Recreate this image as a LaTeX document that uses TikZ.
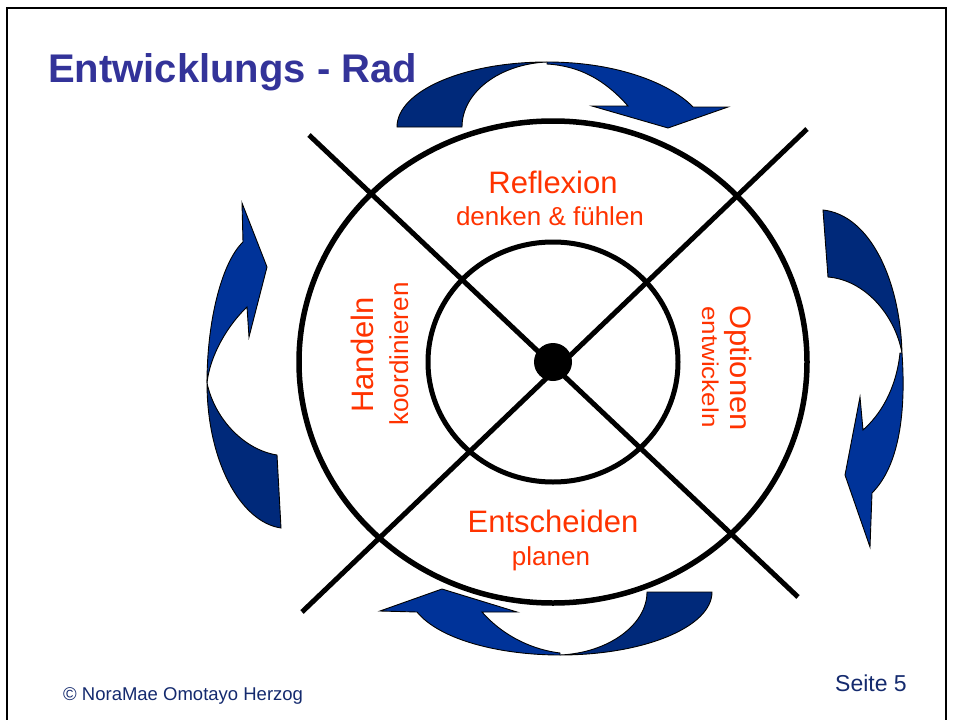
\documentclass[tikz,border=0pt]{standalone}
\usepackage{fontspec}
\setmainfont{Liberation Sans}
\usepackage{graphicx}
\definecolor{titleblue}{RGB}{51,51,153}
\definecolor{wheelred}{RGB}{255,51,0}
\definecolor{footnavy}{RGB}{20,42,110}
\definecolor{banddark}{RGB}{0,41,122}
\definecolor{bandlight}{RGB}{0,51,153}
\begin{document}
\begin{tikzpicture}[x=1pt,y=-1pt,
  darkband/.style={fill=banddark,draw=black,line width=0.9pt},
  lightband/.style={fill=bandlight,draw=black,line width=0.9pt},
  ring/.style={draw=black,line width=5.5pt},
  spoke/.style={draw=black,line width=5pt},
  mainlbl/.style={text=wheelred,font=\fontsize{31}{36}\selectfont,inner sep=0pt},
  sublbl/.style={text=wheelred,font=\fontsize{26}{30}\selectfont,inner sep=0pt},
  footlbl/.style={text=footnavy,inner sep=0pt}
  ]
\useasboundingbox (0,0) rectangle (954,720);
\clip (0,0) rectangle (954,720);
\fill[white] (0,0) rectangle (954,720);
\draw[line width=2pt] (7,8) rectangle (946,760);

% title
\node[anchor=base west,inner sep=0pt,text=titleblue,font=\bfseries\fontsize{40}{47}\selectfont] (title) at (48,82) {Entwicklungs - Rad};

% top arrow
\path[darkband] (397,127) .. controls (397,91) and (464,62) .. (547,62)
  .. controls (500,64) and (462,92) .. (462,127) -- cycle;
\path[lightband] (547,62) .. controls (620,62) and (672,85) .. (693,107)
  -- (728,107) -- (668,128) -- (592,106) -- (628,106)
  .. controls (605,80) and (580,66) .. (547,64) -- cycle;

% bottom arrow
\path[darkband] (712,592) .. controls (712,627) and (644,655) .. (560,655)
  .. controls (608,653) and (647,625) .. (647,592) -- cycle;
\path[lightband] (560,655) .. controls (500,655) and (440,640) .. (417,612)
  -- (380,611) -- (442,589) -- (517,612) -- (482,612)
  .. controls (505,638) and (535,650) .. (560,653) -- cycle;

% left arrow
\path[darkband] (281,528) .. controls (240,522) and (207,460) .. (207,383)
  .. controls (215,420) and (245,450) .. (277,455) -- cycle;
\path[lightband] (207,383) .. controls (207,320) and (222,262) .. (243,242)
  -- (242,203) -- (267,267) -- (249,337) -- (247,307)
  .. controls (228,325) and (210,355) .. (207,383) -- cycle;

% right arrow
\path[darkband] (823,210) .. controls (870,215) and (900,280) .. (902,353)
  .. controls (895,315) and (865,280) .. (828,277) -- cycle;
\path[lightband] (902,353) .. controls (906,410) and (900,465) .. (872,493)
  -- (870,547) -- (845,475) -- (860,397) -- (863,430)
  .. controls (880,415) and (896,390) .. (900,353) -- cycle;

% wheel
\coordinate (c) at (553,362);
\draw[ring] (c) ellipse [x radius=254, y radius=241];
\draw[ring,line width=5pt] (c) ellipse [x radius=125, y radius=120];
\coordinate (s1a) at (309,135);
\coordinate (s1b) at (798,597);
\coordinate (s2a) at (807,129);
\coordinate (s2b) at (302,612);
\draw[spoke] (s1a) -- (s1b);
\draw[spoke] (s2a) -- (s2b);
\node[circle,fill=black,minimum size=38pt,inner sep=0pt] (hub) at (c) {};

% labels
\node[mainlbl,anchor=base] (refl) at (553,193) {Reflexion};
\node[sublbl,anchor=base] (reflsub) at (550,225) {denken \& fühlen};
\node[mainlbl,anchor=base] (ent) at (553,532) {Entscheiden};
\node[sublbl,anchor=base] (entsub) at (551,565) {planen};
\node[mainlbl,anchor=base,rotate=90] (hand) at (373,355) {Handeln};
\node[sublbl,anchor=base,rotate=90] (handsub) at (408,354) {koordinieren};
\node[mainlbl,anchor=base,rotate=-90] (opt) at (730,368) {\scalebox{1}[0.95]{Optionen}};
\node[sublbl,anchor=base,rotate=-90] (optsub) at (702,367) {\scalebox{1}[0.88]{entwickeln}};

% footer
\node[footlbl,anchor=base west,font=\fontsize{18.5}{22}\selectfont] (copy) at (63,700) {© NoraMae Omotayo Herzog};
\node[footlbl,anchor=base west,font=\fontsize{23}{27}\selectfont] (page) at (835,691) {Seite 5};
\end{tikzpicture}
\end{document}
